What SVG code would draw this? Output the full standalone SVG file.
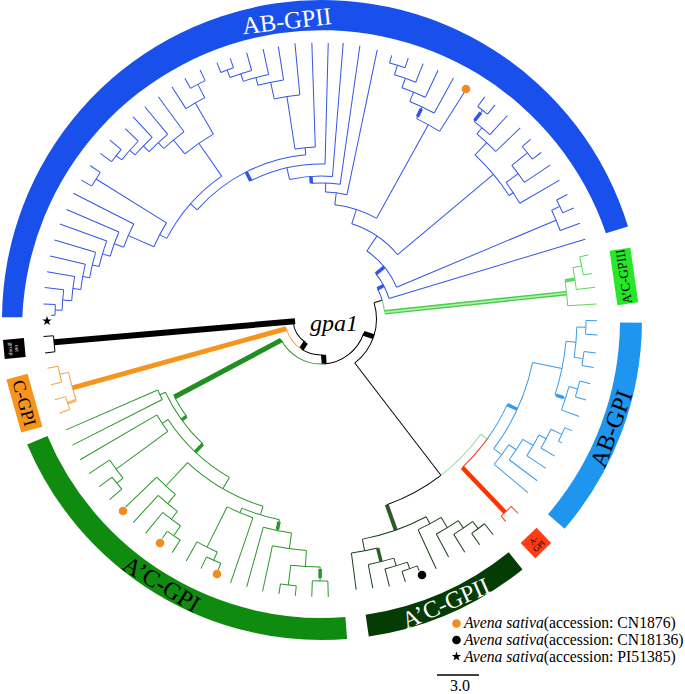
<svg xmlns="http://www.w3.org/2000/svg" width="685" height="694" viewBox="0 0 685 694">
<defs>
<path id="star" d="M0,-5L1.18,-1.62L4.76,-1.55L1.9,0.62L2.94,4.05L0,2L-2.94,4.05L-1.9,0.62L-4.76,-1.55L-1.18,-1.62Z"/>
</defs>
<style>
text{font-family:"Liberation Serif","Times New Roman",serif}
.ring{fill:none;stroke-width:22}
</style>
<rect width="685" height="694" fill="#fff"/>
<g id="node-AB-GPII">
<path d="M2.01,317.2A320,320 0 0 1 628,226.4L605.9,233.2A300,300 0 0 0 22.3,317.2Z" fill="#1950eb"/>
<text transform="translate(322,320) rotate(263.3) translate(293,0) rotate(90)" text-anchor="middle" font-size="24.5" fill="#fff">AB-GPII</text>
</g>
<g id="rings" transform="translate(322,320)">
<g id="node-AB-GPI">
<circle class="ring" r="309" pathLength="360" stroke-dasharray="40.2 360" transform="rotate(0.5)" stroke="#1e96f0"/>
<text transform="rotate(20.6) translate(309,0) rotate(-90)" y="8" text-anchor="middle" font-size="24" fill="#000">AB-GPI</text>
</g>
<g id="node-ACGPII">
<circle class="ring" r="309" pathLength="360" stroke-dasharray="30.4 360" transform="rotate(51.2)" stroke="#053c05"/>
<text transform="rotate(66.4) translate(309,0) rotate(-90)" y="8" text-anchor="middle" font-size="24" fill="#fff">A’C-GPII</text>
</g>
<g id="node-ACGPI">
<circle class="ring" r="309" pathLength="360" stroke-dasharray="71.6 360" transform="rotate(85.5)" stroke="#0f8c0f"/>
<text transform="rotate(121.3) translate(309,0) rotate(-90)" y="8" text-anchor="middle" font-size="24" fill="#000">A’C-GPI</text>
</g>
<g id="node-ACGPIII" transform="rotate(351.8) translate(305,0)">
<rect x="-10.5" y="-27.5" width="21" height="55" fill="#28e628"/>
<text transform="rotate(-90)" y="4.3" text-anchor="middle" font-size="13">A’C-GPIII</text>
</g>
<g id="node-outgroup" transform="rotate(174.7) translate(309,0)">
<rect x="-10.5" y="-9.5" width="21" height="19" fill="#000"/>
<text transform="rotate(-90)" text-anchor="middle" font-size="5.5" fill="#fff"><tspan x="0" y="-1">out</tspan><tspan x="0" y="5">group</tspan></text>
</g>
<g id="node-C-GPI" transform="rotate(164.4) translate(309,0)">
<rect x="-11" y="-27.5" width="22" height="55" fill="#f7941d"/>
<text transform="rotate(-90)" y="6" text-anchor="middle" font-size="18">C-GPI</text>
</g>
<g id="node-A-GPI" transform="rotate(46.2) translate(309,0)">
<rect x="-10.5" y="-11" width="21" height="22" fill="#ff3c14"/>
<text transform="rotate(-90)" text-anchor="middle" font-size="8"><tspan x="0" y="-1">A-</tspan><tspan x="0" y="7">GPI</tspan></text>
</g>
</g>
<g id="connectors" transform="translate(321,319)" fill="none" stroke-width="1">
<g id="root" stroke="#000">
<line x1="26" x2="268" transform="rotate(175)" stroke-width="6"/>
<circle r="28" pathLength="360" stroke-dasharray="52 360" transform="rotate(123)"/>
<line x1="28" x2="36" transform="rotate(123)" stroke-width="5"/>
<circle r="36" pathLength="360" stroke-dasharray="37 360" transform="rotate(86)"/>
<circle r="36" pathLength="360" stroke-dasharray="41.5 360" transform="rotate(123)" stroke="#f5a040"/>
<line x1="36" x2="258" transform="rotate(164.5)" stroke-width="5" stroke="#f7941d"/>
<line x1="36" x2="45" transform="rotate(86)" stroke-width="5"/>
<circle r="45" pathLength="360" stroke-dasharray="67.5 360" transform="rotate(18.5)"/>
<circle r="45" pathLength="360" stroke-dasharray="66 360" transform="rotate(86)" stroke="#2a962a"/>
<line x1="45" x2="166" transform="rotate(152)" stroke-width="5" stroke="#1f8f1f"/>
<line x1="45" x2="55.5" transform="rotate(18.5)" stroke-width="5"/>
<circle r="55.5" pathLength="360" stroke-dasharray="69.5 360" transform="rotate(-17)"/>
<line x1="55.5" x2="197" transform="rotate(52.5)"/>
<line x1="55.5" x2="64" transform="rotate(-17)"/>
<circle r="64" pathLength="360" stroke-dasharray="11.1 360" transform="rotate(-28.1)" stroke="#3355e6"/>
<circle r="64" pathLength="360" stroke-dasharray="11 360" transform="rotate(-17)" stroke="#5fd65f"/>
<line x1="64" x2="247" transform="rotate(-6)" stroke-width="4.5" stroke="#4ccc4c"/>
<line x1="64" x2="247" transform="rotate(-6)" stroke-width="1.8" stroke="#aaf2aa"/>
<line x1="64" x2="71" transform="rotate(-28.1)" stroke-width="3.5" stroke="#3355e6"/>
<circle r="268" pathLength="360" stroke-dasharray="3.4 360" transform="rotate(173)"/>
<line x1="268" x2="278" transform="rotate(173)"/>
<line x1="268" x2="278" transform="rotate(176.4)"/>
<circle r="197" pathLength="360" stroke-dasharray="18 360" transform="rotate(52.5)"/>
</g>
<g id="clade-ABGPII" stroke="#3355e6">
<circle r="71" pathLength="360" stroke-dasharray="22.6 360" transform="rotate(320.6)"/>
<line x1="71" x2="276" transform="rotate(343.2)"/>
<line x1="71" x2="82" transform="rotate(320.6)" stroke-width="3.5"/>
<circle r="82" pathLength="360" stroke-dasharray="33.2 360" transform="rotate(304)"/>
<line x1="82" x2="255" transform="rotate(337.2)"/>
<line x1="82" x2="100" transform="rotate(304)"/>
<circle r="255" pathLength="360" stroke-dasharray="4.95 360" transform="rotate(334.75)"/>
<line x1="255" x2="276" transform="rotate(339.7)"/>
<line x1="255" x2="264" transform="rotate(334.75)"/>
<circle r="264" pathLength="360" stroke-dasharray="3.1 360" transform="rotate(333.2)"/>
<line x1="264" x2="276" transform="rotate(333.2)"/>
<line x1="264" x2="276" transform="rotate(336.3)"/>
<circle r="100" pathLength="360" stroke-dasharray="32.1 360" transform="rotate(287.9)"/>
<line x1="100" x2="225" transform="rotate(320)"/>
<line x1="100" x2="115" transform="rotate(287.9)"/>
<circle r="225" pathLength="360" stroke-dasharray="13.5 360" transform="rotate(313.2)"/>
<line x1="225" x2="242" transform="rotate(313.2)"/>
<line x1="225" x2="230" transform="rotate(326.7)"/>
<circle r="242" pathLength="360" stroke-dasharray="6.1 360" transform="rotate(310.1)"/>
<line x1="242" x2="276" transform="rotate(316.2)"/>
<line x1="242" x2="250" transform="rotate(310.1)"/>
<circle r="250" pathLength="360" stroke-dasharray="4.75 360" transform="rotate(307.75)"/>
<line x1="250" x2="276" transform="rotate(312.5)"/>
<line x1="250" x2="264" transform="rotate(307.75)"/>
<line x1="251" x2="261" transform="rotate(307.75)" stroke-width="3.5"/>
<circle r="264" pathLength="360" stroke-dasharray="2.7 360" transform="rotate(306.4)"/>
<line x1="264" x2="276" transform="rotate(306.4)"/>
<line x1="264" x2="276" transform="rotate(309.1)"/>
<circle r="230" pathLength="360" stroke-dasharray="6.2 360" transform="rotate(323.6)"/>
<line x1="230" x2="276" transform="rotate(329.8)"/>
<line x1="230" x2="245" transform="rotate(323.6)"/>
<circle r="245" pathLength="360" stroke-dasharray="4.95 360" transform="rotate(321.15)"/>
<line x1="245" x2="276" transform="rotate(326.1)"/>
<line x1="245" x2="265" transform="rotate(321.15)"/>
<circle r="265" pathLength="360" stroke-dasharray="3.5 360" transform="rotate(319.4)"/>
<line x1="265" x2="276" transform="rotate(319.4)"/>
<line x1="265" x2="276" transform="rotate(322.9)"/>
<circle r="115" pathLength="360" stroke-dasharray="22 360" transform="rotate(276.9)"/>
<line x1="115" x2="222" transform="rotate(298.9)"/>
<line x1="115" x2="127" transform="rotate(276.9)"/>
<circle r="222" pathLength="360" stroke-dasharray="6.8 360" transform="rotate(295.5)"/>
<line x1="222" x2="268" transform="rotate(302.3)"/>
<line x1="222" x2="235" transform="rotate(295.5)"/>
<line x1="224" x2="233" transform="rotate(295.5)" stroke-width="3.5"/>
<circle r="235" pathLength="360" stroke-dasharray="6.6 360" transform="rotate(292.2)"/>
<line x1="235" x2="275" transform="rotate(298.8)"/>
<line x1="235" x2="245" transform="rotate(292.2)"/>
<circle r="245" pathLength="360" stroke-dasharray="5.9 360" transform="rotate(289.3)"/>
<line x1="245" x2="275" transform="rotate(295.2)"/>
<line x1="245" x2="255" transform="rotate(289.3)"/>
<circle r="255" pathLength="360" stroke-dasharray="5.05 360" transform="rotate(286.75)"/>
<line x1="255" x2="275" transform="rotate(291.8)"/>
<line x1="255" x2="265" transform="rotate(286.75)"/>
<circle r="265" pathLength="360" stroke-dasharray="3.5 360" transform="rotate(285)"/>
<line x1="265" x2="273" transform="rotate(285)"/>
<line x1="265" x2="275" transform="rotate(288.5)"/>
<circle r="127" pathLength="360" stroke-dasharray="9.8 360" transform="rotate(272)"/>
<line x1="127" x2="275" transform="rotate(281.8)"/>
<line x1="127" x2="136" transform="rotate(272)"/>
<circle r="136" pathLength="360" stroke-dasharray="12.15 360" transform="rotate(265.95)"/>
<line x1="136" x2="276" transform="rotate(278.1)"/>
<line x1="136" x2="143" transform="rotate(265.95)" stroke-width="3.5"/>
<circle r="143" pathLength="360" stroke-dasharray="17.3 360" transform="rotate(257.3)"/>
<line x1="143" x2="277" transform="rotate(274.6)"/>
<line x1="143" x2="155" transform="rotate(257.3)"/>
<circle r="155" pathLength="360" stroke-dasharray="28.45 360" transform="rotate(243.05)"/>
<line x1="155" x2="276" transform="rotate(271.5)"/>
<line x1="155" x2="165" transform="rotate(243.05)" stroke-width="3.5"/>
<circle r="165" pathLength="360" stroke-dasharray="43.3 360" transform="rotate(221.4)"/>
<line x1="165" x2="172" transform="rotate(264.7)"/>
<line x1="165" x2="174" transform="rotate(221.4)"/>
<circle r="172" pathLength="360" stroke-dasharray="6.8 360" transform="rotate(261.3)"/>
<line x1="172" x2="276.5" transform="rotate(268.1)"/>
<line x1="172" x2="225" transform="rotate(261.3)"/>
<circle r="225" pathLength="360" stroke-dasharray="6.6 360" transform="rotate(258)"/>
<line x1="225" x2="277" transform="rotate(264.6)"/>
<line x1="225" x2="242" transform="rotate(258)"/>
<circle r="242" pathLength="360" stroke-dasharray="6.2 360" transform="rotate(254.9)"/>
<line x1="242" x2="276" transform="rotate(261.1)"/>
<line x1="242" x2="250" transform="rotate(254.9)"/>
<circle r="250" pathLength="360" stroke-dasharray="6 360" transform="rotate(251.9)"/>
<line x1="250" x2="276" transform="rotate(257.9)"/>
<line x1="250" x2="258" transform="rotate(251.9)"/>
<circle r="258" pathLength="360" stroke-dasharray="5.05 360" transform="rotate(249.35)"/>
<line x1="258" x2="276.5" transform="rotate(254.4)"/>
<line x1="258" x2="266" transform="rotate(249.35)"/>
<circle r="266" pathLength="360" stroke-dasharray="2.9 360" transform="rotate(247.9)"/>
<line x1="266" x2="276.7" transform="rotate(247.9)"/>
<line x1="266" x2="276" transform="rotate(250.8)"/>
<circle r="174" pathLength="360" stroke-dasharray="27.6 360" transform="rotate(207.6)"/>
<line x1="174" x2="214" transform="rotate(235.2)"/>
<line x1="174" x2="182" transform="rotate(207.6)"/>
<circle r="214" pathLength="360" stroke-dasharray="9.3 360" transform="rotate(230.5)"/>
<line x1="214" x2="232" transform="rotate(230.5)"/>
<line x1="214" x2="250" transform="rotate(239.8)"/>
<circle r="250" pathLength="360" stroke-dasharray="5 360" transform="rotate(237.3)"/>
<line x1="250" x2="276" transform="rotate(237.3)"/>
<line x1="250" x2="265" transform="rotate(242.3)"/>
<circle r="265" pathLength="360" stroke-dasharray="3.6 360" transform="rotate(240.5)"/>
<line x1="265" x2="276.5" transform="rotate(240.5)"/>
<line x1="265" x2="276.8" transform="rotate(244.1)"/>
<circle r="232" pathLength="360" stroke-dasharray="6.5 360" transform="rotate(227.3)"/>
<line x1="232" x2="275.5" transform="rotate(233.8)"/>
<line x1="232" x2="240" transform="rotate(227.3)"/>
<circle r="240" pathLength="360" stroke-dasharray="6.05 360" transform="rotate(224.25)"/>
<line x1="240" x2="275.8" transform="rotate(230.3)"/>
<line x1="240" x2="248" transform="rotate(224.25)"/>
<circle r="248" pathLength="360" stroke-dasharray="5.7 360" transform="rotate(221.4)"/>
<line x1="248" x2="276" transform="rotate(227.1)"/>
<line x1="248" x2="255" transform="rotate(221.4)"/>
<circle r="255" pathLength="360" stroke-dasharray="5.6 360" transform="rotate(218.6)"/>
<line x1="255" x2="273" transform="rotate(224.2)"/>
<line x1="255" x2="262" transform="rotate(218.6)"/>
<circle r="262" pathLength="360" stroke-dasharray="3.4 360" transform="rotate(216.9)"/>
<line x1="262" x2="276" transform="rotate(216.9)"/>
<line x1="262" x2="276.7" transform="rotate(220.3)"/>
<circle r="182" pathLength="360" stroke-dasharray="8.5 360" transform="rotate(203.4)"/>
<line x1="182" x2="265" transform="rotate(211.9)"/>
<line x1="182" x2="210" transform="rotate(203.4)"/>
<circle r="265" pathLength="360" stroke-dasharray="3.5 360" transform="rotate(210.1)"/>
<line x1="265" x2="277" transform="rotate(210.1)"/>
<line x1="265" x2="277" transform="rotate(213.6)"/>
<circle r="210" pathLength="360" stroke-dasharray="6.9 360" transform="rotate(200)"/>
<line x1="210" x2="277.8" transform="rotate(206.9)"/>
<line x1="210" x2="220" transform="rotate(200)"/>
<circle r="220" pathLength="360" stroke-dasharray="6.7 360" transform="rotate(196.6)"/>
<line x1="220" x2="277" transform="rotate(203.3)"/>
<line x1="220" x2="228" transform="rotate(196.6)"/>
<circle r="228" pathLength="360" stroke-dasharray="6.7 360" transform="rotate(193.3)"/>
<line x1="228" x2="277.8" transform="rotate(200)"/>
<line x1="228" x2="235" transform="rotate(193.3)"/>
<circle r="235" pathLength="360" stroke-dasharray="6.4 360" transform="rotate(190.1)"/>
<line x1="235" x2="278" transform="rotate(196.5)"/>
<line x1="235" x2="242" transform="rotate(190.1)"/>
<circle r="242" pathLength="360" stroke-dasharray="6.1 360" transform="rotate(187)"/>
<line x1="242" x2="278" transform="rotate(193.1)"/>
<line x1="242" x2="250" transform="rotate(187)"/>
<circle r="250" pathLength="360" stroke-dasharray="5.6 360" transform="rotate(184.2)"/>
<line x1="250" x2="278" transform="rotate(189.8)"/>
<line x1="250" x2="259" transform="rotate(184.2)"/>
<circle r="259" pathLength="360" stroke-dasharray="4.55 360" transform="rotate(181.95)"/>
<line x1="259" x2="278" transform="rotate(186.5)"/>
<line x1="259" x2="266" transform="rotate(181.95)"/>
<circle r="266" pathLength="360" stroke-dasharray="2.3 360" transform="rotate(180.8)"/>
<line x1="266" x2="270" transform="rotate(180.8)"/>
<line x1="266" x2="278" transform="rotate(183.1)"/>
</g>
<g id="clade-ACGPIII" stroke="#5fd65f">
<circle r="247" pathLength="360" stroke-dasharray="5.8 360" transform="rotate(-8.9)"/>
<line x1="247" x2="276" transform="rotate(-3.1)"/>
<line x1="247" x2="257" transform="rotate(-8.9)" stroke-width="3.5"/>
<circle r="257" pathLength="360" stroke-dasharray="4.9 360" transform="rotate(-11.5)"/>
<line x1="257" x2="276" transform="rotate(-6.6)"/>
<line x1="257" x2="266" transform="rotate(-11.5)"/>
<circle r="266" pathLength="360" stroke-dasharray="4 360" transform="rotate(-13.5)"/>
<line x1="266" x2="275" transform="rotate(-13.5)"/>
<line x1="266" x2="275" transform="rotate(-9.5)"/>
</g>
<g id="clade-ABGPI" stroke="#3a9be8">
<circle r="197" pathLength="360" stroke-dasharray="16.7 360" transform="rotate(35.8)" stroke="#9bd89b"/>
<line x1="197" x2="205" transform="rotate(35.8)" stroke="#9bd89b"/>
<circle r="205" pathLength="360" stroke-dasharray="11.1 360" transform="rotate(24.7)"/>
<line x1="205" x2="216" transform="rotate(24.7)" stroke-width="3.5"/>
<circle r="216" pathLength="360" stroke-dasharray="25.3 360" transform="rotate(11.6)"/>
<line x1="216" x2="246" transform="rotate(11.6)"/>
<line x1="216" x2="226" transform="rotate(36.9)"/>
<circle r="246" pathLength="360" stroke-dasharray="12.77 360" transform="rotate(5.2)"/>
<line x1="246" x2="256" transform="rotate(5.2)"/>
<line x1="246" x2="257" transform="rotate(17.97)"/>
<line x1="247" x2="255" transform="rotate(17.97)" stroke-width="3.5"/>
<circle r="256" pathLength="360" stroke-dasharray="6.8 360" transform="rotate(1.8)"/>
<line x1="256" x2="265" transform="rotate(1.8)"/>
<line x1="256" x2="265" transform="rotate(8.6)"/>
<circle r="265" pathLength="360" stroke-dasharray="2.95 360" transform="rotate(0.35)"/>
<line x1="265" x2="276" transform="rotate(0.35)"/>
<line x1="265" x2="277" transform="rotate(3.3)"/>
<circle r="265" pathLength="360" stroke-dasharray="3.05 360" transform="rotate(7.05)"/>
<line x1="265" x2="277" transform="rotate(7.05)"/>
<line x1="265" x2="277" transform="rotate(10.1)"/>
<circle r="257" pathLength="360" stroke-dasharray="5.45 360" transform="rotate(15.25)"/>
<line x1="257" x2="276" transform="rotate(20.7)"/>
<line x1="257" x2="266" transform="rotate(15.25)"/>
<circle r="266" pathLength="360" stroke-dasharray="3.5 360" transform="rotate(13.5)"/>
<line x1="266" x2="277" transform="rotate(13.5)"/>
<line x1="266" x2="277" transform="rotate(17)"/>
<circle r="226" pathLength="360" stroke-dasharray="6.2 360" transform="rotate(33.8)"/>
<line x1="226" x2="270" transform="rotate(40)"/>
<line x1="226" x2="235" transform="rotate(33.8)"/>
<circle r="235" pathLength="360" stroke-dasharray="6 360" transform="rotate(30.8)"/>
<line x1="235" x2="270" transform="rotate(36.8)"/>
<line x1="235" x2="247" transform="rotate(30.8)"/>
<circle r="247" pathLength="360" stroke-dasharray="5.6 360" transform="rotate(28)"/>
<line x1="247" x2="270" transform="rotate(33.6)"/>
<line x1="247" x2="255" transform="rotate(28)"/>
<circle r="255" pathLength="360" stroke-dasharray="4.8 360" transform="rotate(25.6)"/>
<line x1="255" x2="271" transform="rotate(30.4)"/>
<line x1="255" x2="267" transform="rotate(25.6)"/>
<circle r="267" pathLength="360" stroke-dasharray="3.2 360" transform="rotate(24)"/>
<line x1="267" x2="275" transform="rotate(24)"/>
<line x1="267" x2="271" transform="rotate(27.2)"/>
</g>
<g id="clade-AGPI" stroke="#f04020">
<circle r="205" pathLength="360" stroke-dasharray="10.6 360" transform="rotate(35.8)"/>
<line x1="205" x2="267" transform="rotate(46.4)" stroke-width="4.5" stroke="#ff3300"/>
<circle r="267" pathLength="360" stroke-dasharray="3 360" transform="rotate(44.6)"/>
<line x1="267" x2="277" transform="rotate(44.6)"/>
<line x1="267" x2="274" transform="rotate(47.6)"/>
</g>
<g id="clade-ACGPII" stroke="#1a401a">
<line x1="197" x2="224" transform="rotate(70.5)" stroke-width="4" stroke="#2a5a2a"/>
<circle r="224" pathLength="360" stroke-dasharray="17.35 360" transform="rotate(62)"/>
<line x1="224" x2="236" transform="rotate(79.35)"/>
<line x1="224" x2="232" transform="rotate(62)"/>
<circle r="236" pathLength="360" stroke-dasharray="6.5 360" transform="rotate(76.1)"/>
<line x1="236" x2="273" transform="rotate(82.6)"/>
<line x1="236" x2="250" transform="rotate(76.1)" stroke-width="3.5" stroke="#2e5e2e"/>
<circle r="250" pathLength="360" stroke-dasharray="6.05 360" transform="rotate(73.05)"/>
<line x1="250" x2="274" transform="rotate(79.1)"/>
<line x1="250" x2="258" transform="rotate(73.05)"/>
<circle r="258" pathLength="360" stroke-dasharray="5.2 360" transform="rotate(70.45)"/>
<line x1="258" x2="276" transform="rotate(75.65)"/>
<line x1="258" x2="265" transform="rotate(70.45)"/>
<circle r="265" pathLength="360" stroke-dasharray="3.5 360" transform="rotate(68.7)"/>
<line x1="265" x2="276" transform="rotate(72.2)"/>
<line x1="265" x2="270" transform="rotate(68.7)"/>
<circle r="232" pathLength="360" stroke-dasharray="6.45 360" transform="rotate(58.8)"/>
<line x1="232" x2="275" transform="rotate(65.25)"/>
<line x1="232" x2="244" transform="rotate(58.8)"/>
<circle r="244" pathLength="360" stroke-dasharray="6.05 360" transform="rotate(55.75)"/>
<line x1="244" x2="270" transform="rotate(61.8)"/>
<line x1="244" x2="253" transform="rotate(55.75)"/>
<circle r="253" pathLength="360" stroke-dasharray="5.2 360" transform="rotate(53.15)"/>
<line x1="253" x2="274" transform="rotate(58.35)"/>
<line x1="253" x2="262" transform="rotate(53.15)"/>
<circle r="262" pathLength="360" stroke-dasharray="3.5 360" transform="rotate(51.4)"/>
<line x1="262" x2="276" transform="rotate(51.4)"/>
<line x1="262" x2="276" transform="rotate(54.9)"/>
</g>
<g id="clade-ACGPI" stroke="#2a962a">
<circle r="166" pathLength="360" stroke-dasharray="7.9 360" transform="rotate(144.1)"/>
<line x1="166" x2="172" transform="rotate(144.1)" stroke-width="3.5"/>
<circle r="172" pathLength="360" stroke-dasharray="21.4 360" transform="rotate(133.4)"/>
<line x1="172" x2="178" transform="rotate(154.8)"/>
<line x1="172" x2="183" transform="rotate(133.4)" stroke-width="3.5"/>
<circle r="178" pathLength="360" stroke-dasharray="3.4 360" transform="rotate(153.1)"/>
<line x1="178" x2="278" transform="rotate(156.5)"/>
<line x1="178" x2="278.7" transform="rotate(153.1)"/>
<circle r="183" pathLength="360" stroke-dasharray="26.65 360" transform="rotate(120.05)"/>
<line x1="183" x2="190" transform="rotate(146.7)"/>
<line x1="183" x2="196" transform="rotate(120.05)"/>
<circle r="190" pathLength="360" stroke-dasharray="5.95 360" transform="rotate(143.75)"/>
<line x1="190" x2="279" transform="rotate(149.7)"/>
<line x1="190" x2="254" transform="rotate(143.75)"/>
<circle r="254" pathLength="360" stroke-dasharray="5.1 360" transform="rotate(141.2)"/>
<line x1="254" x2="278.7" transform="rotate(146.3)"/>
<line x1="254" x2="262" transform="rotate(141.2)"/>
<circle r="262" pathLength="360" stroke-dasharray="3.4 360" transform="rotate(139.5)"/>
<line x1="262" x2="278" transform="rotate(139.5)"/>
<line x1="262" x2="278" transform="rotate(142.9)"/>
<circle r="196" pathLength="360" stroke-dasharray="25.7 360" transform="rotate(107.2)"/>
<line x1="196" x2="228" transform="rotate(132.9)"/>
<line x1="196" x2="205" transform="rotate(107.2)"/>
<circle r="228" pathLength="360" stroke-dasharray="6.4 360" transform="rotate(129.7)"/>
<line x1="228" x2="271" transform="rotate(136.1)"/>
<line x1="228" x2="240" transform="rotate(129.7)"/>
<circle r="240" pathLength="360" stroke-dasharray="5.95 360" transform="rotate(126.75)"/>
<line x1="240" x2="277" transform="rotate(132.7)"/>
<line x1="240" x2="250" transform="rotate(126.75)"/>
<circle r="250" pathLength="360" stroke-dasharray="5.1 360" transform="rotate(124.2)"/>
<line x1="250" x2="277" transform="rotate(129.3)"/>
<line x1="250" x2="262" transform="rotate(124.2)"/>
<circle r="262" pathLength="360" stroke-dasharray="3.4 360" transform="rotate(122.5)"/>
<line x1="262" x2="271" transform="rotate(125.9)"/>
<line x1="262" x2="277" transform="rotate(122.5)"/>
<circle r="205" pathLength="360" stroke-dasharray="11 360" transform="rotate(101.7)"/>
<line x1="205" x2="210" transform="rotate(112.7)"/>
<line x1="205" x2="216" transform="rotate(101.7)"/>
<line x1="207" x2="215" transform="rotate(101.7)" stroke-width="3.5"/>
<circle r="210" pathLength="360" stroke-dasharray="7.65 360" transform="rotate(108.9)"/>
<line x1="210" x2="279" transform="rotate(108.9)"/>
<line x1="210" x2="255" transform="rotate(116.55)"/>
<circle r="255" pathLength="360" stroke-dasharray="5.1 360" transform="rotate(114)"/>
<line x1="255" x2="277" transform="rotate(119.1)"/>
<line x1="255" x2="264" transform="rotate(114)"/>
<circle r="264" pathLength="360" stroke-dasharray="3.4 360" transform="rotate(112.3)"/>
<line x1="264" x2="271" transform="rotate(112.3)"/>
<line x1="264" x2="277" transform="rotate(115.7)"/>
<circle r="216" pathLength="360" stroke-dasharray="7.65 360" transform="rotate(97.85)"/>
<line x1="216" x2="278" transform="rotate(105.5)"/>
<line x1="216" x2="232" transform="rotate(97.85)"/>
<circle r="232" pathLength="360" stroke-dasharray="8.5 360" transform="rotate(93.6)"/>
<line x1="232" x2="278.7" transform="rotate(102.1)"/>
<line x1="232" x2="248" transform="rotate(93.6)"/>
<circle r="248" pathLength="360" stroke-dasharray="6.8 360" transform="rotate(90.2)"/>
<line x1="248" x2="268" transform="rotate(97)"/>
<line x1="248" x2="262" transform="rotate(90.2)"/>
<line x1="250" x2="259" transform="rotate(90.2)" stroke-width="3.5"/>
<circle r="268" pathLength="360" stroke-dasharray="3.4 360" transform="rotate(95.3)"/>
<line x1="268" x2="278" transform="rotate(95.3)"/>
<line x1="268" x2="278" transform="rotate(98.7)"/>
<circle r="262" pathLength="360" stroke-dasharray="3.4 360" transform="rotate(88.5)"/>
<line x1="262" x2="278" transform="rotate(88.5)"/>
<line x1="262" x2="278" transform="rotate(91.9)"/>
</g>
<g id="clade-CGPI" stroke="#f5a040">
<circle r="258" pathLength="360" stroke-dasharray="6.4 360" transform="rotate(161.65)"/>
<line x1="258" x2="267" transform="rotate(168.05)"/>
<line x1="258" x2="267" transform="rotate(161.65)" stroke-width="3" stroke="#f8b870"/>
<circle r="267" pathLength="360" stroke-dasharray="3.5 360" transform="rotate(166.3)"/>
<line x1="267" x2="278" transform="rotate(166.3)"/>
<line x1="267" x2="278" transform="rotate(169.8)"/>
<circle r="267" pathLength="360" stroke-dasharray="2.9 360" transform="rotate(160.2)"/>
<line x1="267" x2="278" transform="rotate(160.2)"/>
<line x1="267" x2="278" transform="rotate(163.1)"/>
</g>
</g>
<g id="markers">
<circle cx="123" cy="511" r="4.3" fill="#f28c1e"/>
<circle cx="160" cy="543" r="4.3" fill="#f28c1e"/>
<circle cx="217" cy="574" r="4.3" fill="#f28c1e"/>
<circle cx="466" cy="89" r="4.3" fill="#f28c1e"/>
<circle cx="422" cy="575" r="4.3" fill="#000"/>
<use href="#star" x="47" y="321"/>
</g>
<g id="node-gpa1">
<text x="310" y="331" font-style="italic" font-size="24">gpa1</text>
</g>
<g id="legend" font-size="15.7">
<circle cx="456.5" cy="623.5" r="4.3" fill="#f28c1e"/>
<text x="464" y="628"><tspan font-style="italic">Avena sativa</tspan>(accession: CN1876)</text>
<circle cx="456.5" cy="640" r="4.3" fill="#000"/>
<text x="464" y="645"><tspan font-style="italic">Avena sativa</tspan>(accession: CN18136)</text>
<use href="#star" x="456.5" y="656.5"/>
<text x="464" y="661.5"><tspan font-style="italic">Avena sativa</tspan>(accession: PI51385)</text>
<line x1="437" y1="675" x2="479" y2="675" stroke="#000" stroke-width="1.5"/>
<text x="450" y="691" font-size="16">3.0</text>
</g>
</svg>
